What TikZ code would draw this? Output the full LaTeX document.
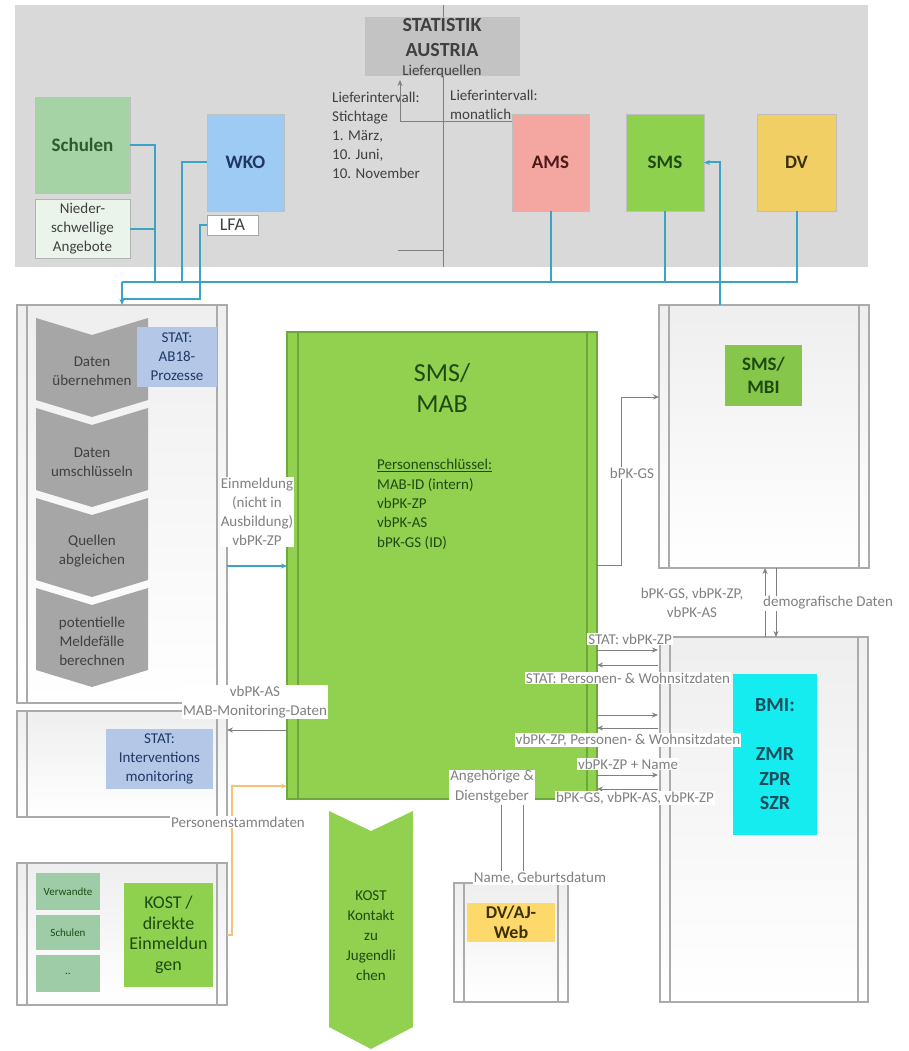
\documentclass[tikz,border=0pt]{standalone}
\usepackage{fontspec}
\setmainfont{Carlito}
\usetikzlibrary{arrows.meta,fit}
\definecolor{panelgray}{HTML}{D9D9D9}
\definecolor{statgray}{HTML}{C3C3C3}
\definecolor{schulgreen}{HTML}{A6D3A6}
\definecolor{niedergreen}{HTML}{EAF4EA}
\definecolor{wkoblue}{HTML}{9DCBF3}
\definecolor{amsred}{HTML}{F4A6A0}
\definecolor{smsgreen}{HTML}{8DD14F}
\definecolor{dvyellow}{HTML}{F1CF65}
\definecolor{chevgray}{HTML}{A6A6A6}
\definecolor{statblue}{HTML}{B4C7E7}
\definecolor{mabgreen}{HTML}{92D050}
\definecolor{mabedge}{HTML}{6DA83A}
\definecolor{bmicyan}{HTML}{14ECF0}
\definecolor{kostsmall}{HTML}{9DCCA7}
\definecolor{ajyellow}{HTML}{FDD86B}
\definecolor{busblue}{HTML}{3AA3C6}
\definecolor{orangec}{HTML}{F6C27A}
\definecolor{conngray}{HTML}{7F7F7F}
\definecolor{labgray}{HTML}{808080}
\definecolor{lanegray}{HTML}{ABABAB}
\definecolor{dkgreen}{HTML}{1E4A12}
\definecolor{schultext}{HTML}{2E5A2E}
\definecolor{navyt}{HTML}{1F3864}
\definecolor{dkred}{HTML}{4D1A18}
\definecolor{dkolive}{HTML}{3A3000}
\definecolor{bmitext}{HTML}{1B4D5C}
\definecolor{txtgray}{HTML}{404040}
% box: [box style]{name}{x1}{y1}{x2}{y2}{text style}{text}
\newcommand{\R}[8][]{\node[fit={(#3,#4)(#5,#6)},inner sep=0pt,outer sep=0pt,#1] (#2) {};
  \node[inner sep=0pt,#7] (#2-t) at (#2.center) {#8};}
\newcommand{\lane}[6][lanebox]{\node[fit={(#3,#4)(#5,#6)},inner sep=0pt,outer sep=0pt,#1] (#2) {};
  \draw[laneline] ([xshift=10pt]#2.north west) -- ([xshift=10pt]#2.south west);
  \draw[laneline] ([xshift=-10pt]#2.north east) -- ([xshift=-10pt]#2.south east);}
\newcommand{\chev}[8]{%
  \fill[chevfill] (#2,#4) -- ({(#2+#3)/2},{#4+#6}) -- (#3,#4) -- (#3,{#4+#5}) -- ({(#2+#3)/2},{#4+#5+#6}) -- (#2,{#4+#5}) -- cycle;
  \node[chevtext] (#1) at ({(#2+#3)/2},#7) {#8};}
\begin{document}
\begin{tikzpicture}[x=1pt,y=-1pt,
  every node/.style={font=\fontsize{15}{19}\selectfont},
  lanebox/.style={draw=lanegray,line width=1.2pt,top color=gray!13,bottom color=white},
  laneline/.style={draw=lanegray,line width=1.2pt},
  chevfill/.style={fill=chevgray},
  chevtext/.style={text=txtgray,align=center},
  bigtext/.style={font=\fontsize{19}{23}\selectfont\bfseries,align=center},
  srcbox/.style={draw=black!25,line width=0.8pt},
  bus/.style={draw=busblue,line width=2pt},
  ocon/.style={draw=orangec,line width=1.6pt},
  gconn/.style={draw=conngray,line width=0.8pt},
  arr/.style={-{Stealth[length=6pt,width=5pt]}},
  lbl/.style={text=labgray,fill=white,inner sep=1pt,align=center},
  statbx/.style={fill=statblue},
  stattx/.style={text=navyt,align=center},
  smalltx/.style={font=\fontsize{11}{13}\selectfont,text=dkgreen},
]
\useasboundingbox (0,0) rectangle (909,1051);

% ---------- top panel ----------
\R[fill=panelgray]{top}{15}{5}{868}{267}{}{}
\coordinate (divT) at (443,5);
\coordinate (divB) at (443,267);
\coordinate (hl1) at (398,250);
\coordinate (hl2) at (443,250);
\R[fill=statgray]{statbox}{365}{17}{520}{76}{}{}
\node[font=\fontsize{20}{25}\selectfont\bfseries,text=txtgray,align=center] (stattitle) at (442,38) {STATISTIK\\AUSTRIA};
\node[text=txtgray,inner sep=0pt] (lq) at (442,72) {Lieferquellen};
\node[text=txtgray,align=left,anchor=north west,inner sep=0pt] (li1) at (332,92) {Lieferintervall:\\Stichtage\\1. März,\\10. Juni,\\10. November};
\node[text=txtgray,align=left,anchor=north west,inner sep=0pt] (li2) at (450,90) {Lieferintervall:\\monatlich};

\R[srcbox,fill=schulgreen]{schulen}{35}{97}{130}{193}{bigtext,text=schultext}{Schulen}
\R[srcbox,draw=black!30,fill=niedergreen]{nieder}{35}{199}{130}{258}{align=center,text=txtgray}{Nieder-\\schwellige\\Angebote}
\R[srcbox,fill=wkoblue]{wko}{207}{114}{284}{211}{bigtext,text=navyt}{WKO}
\R[srcbox,draw=black!35,fill=white]{lfa}{207}{215}{258}{235}{font=\fontsize{18}{21}\selectfont,text=txtgray}{LFA}
\R[srcbox,fill=amsred]{ams}{512}{114}{589}{211}{bigtext,text=dkred}{AMS}
\R[srcbox,fill=smsgreen]{sms}{626}{114}{704}{211}{bigtext,text=dkgreen}{SMS}
\R[srcbox,fill=dvyellow]{dv}{757}{114}{836}{211}{bigtext,text=dkolive}{DV}

\coordinate (lqy) at (0,121);
\coordinate (lqin) at (400,80);
\draw[gconn,arr] (ams.west |- lqy) -| (lqin);

% ---------- lanes ----------
\lane{lane1}{17}{305}{227}{703}
\lane{lane2}{17}{711}{227}{817}
\lane{lane3}{17}{863}{227}{1005}
\lane{mbilane}{659}{305}{869}{568}
\lane{bmilane}{660}{637}{868}{1002}
\lane{dvlane}{454}{883}{568}{1002}
\R[fill=mabgreen,draw=mabedge,line width=1.2pt]{mablane}{287}{332}{597}{799}{}{}
\draw[draw=mabedge,line width=1.2pt] ([xshift=11pt]mablane.north west) -- ([xshift=11pt]mablane.south west);
\draw[draw=mabedge,line width=1.2pt] ([xshift=-10pt]mablane.north east) -- ([xshift=-10pt]mablane.south east);

% ---------- bus ----------
\coordinate (busL) at (122,282);
\coordinate (busS) at (155,282);
\coordinate (busW) at (182,282);
\coordinate (lfaC) at (200,299);
\coordinate (lfaL) at (122,299);
\coordinate (smsUp) at (720,0);
\draw[bus] (schulen.east) -| (busS);
\draw[bus] (nieder.east) -- (nieder.east -| busS);
\draw[bus] (wko.west) -| (busW);
\draw[bus] (lfa.west) -| (lfaC) -- (lfaL);
\draw[bus] (ams.south) -- (ams.south |- busL);
\draw[bus] (sms.south) -- (sms.south |- busL);
\draw[bus] (dv.south) -- (dv.south |- busL) -- (busL);
\draw[bus,arr] (busL) -- (lane1.north -| busL);
\draw[bus,arr] (mbilane.north -| smsUp) |- (sms.east);

% ---------- lane 1 ----------
\chev{ch1}{36}{148}{318}{82}{17}{371}{Daten\\übernehmen}
\chev{ch2}{36}{148}{408}{82}{17}{462}{Daten\\umschlüsseln}
\chev{ch3}{36}{148}{498}{82}{17}{551}{Quellen\\abgleichen}
\chev{ch4}{36}{148}{588}{82}{17}{641}{potentielle\\Meldefälle\\berechnen}
\R[statbx]{ab18}{137}{327}{217}{387}{stattx}{STAT:\\AB18-\\Prozesse}
% ---------- lane 2 / 3 ----------
\R[statbx]{interv}{106}{729}{213}{789}{stattx}{STAT:\\Interventions\\monitoring}
\R[fill=kostsmall]{verw}{36}{873}{100}{910}{smalltx}{Verwandte}
\R[fill=kostsmall]{schul2}{36}{915}{100}{950}{smalltx}{Schulen}
\R[fill=kostsmall]{dots}{36}{955}{100}{992}{smalltx}{..}
\R[fill=smsgreen]{kostd}{124}{883}{213}{987}{font=\fontsize{18}{20.5}\selectfont,text=dkgreen,align=center}{KOST /\\direkte\\Einmeldun\\gen}

% ---------- MAB ----------
\node[font=\fontsize{26}{31}\selectfont,text=dkgreen,align=center] (mabtitle) at (442,388) {SMS/\\MAB};
\node[text=dkgreen,align=left,anchor=north west,inner sep=0pt,font=\fontsize{15}{19.4}\selectfont] (pkeys) at (377,459) {\underline{Personenschlüssel:}\\MAB-ID (intern)\\vbPK-ZP\\vbPK-AS\\bPK-GS (ID)};
\R[fill=smsgreen!95!black]{mbi}{725}{345}{802}{406}{font=\fontsize{19}{23}\selectfont\bfseries,text=dkgreen,align=center}{SMS/\\MBI}
\R[fill=bmicyan]{bmi}{733}{674}{817}{835}{font=\fontsize{20}{24.5}\selectfont\bfseries,text=bmitext,align=center}{BMI:\\[24.5pt]ZMR\\ZPR\\SZR}
\R[fill=ajyellow]{ajweb}{467}{903}{555}{942}{font=\fontsize{18}{20}\selectfont\bfseries,text=dkolive,align=center}{DV/AJ-\\Web}

% KOST chevron
\fill[chevfill,fill=mabgreen] (329,811) -- (371,831) -- (413,811) -- (413,1027) -- (371,1049) -- (329,1027) -- cycle;
\node[text=dkgreen,align=center,font=\fontsize{15}{20}\selectfont] (kostk) at (371,936) {KOST\\Kontakt\\zu\\Jugendli\\chen};

% ---------- connectors ----------
\draw[gconn] (divT) -- (statbox.north -| divT);
\draw[gconn] (statbox.south -| divT) -- (divB);
\draw[gconn] (hl1) -- (hl2);
\coordinate (einY) at (0,566);
\draw[bus,arr] (lane1.east |- einY) -- (mablane.west |- einY);
\coordinate (vaY) at (0,730);
\draw[gconn,arr] (mablane.west |- vaY) -- (lane2.east |- vaY);
\coordinate (orA) at (232,935);
\coordinate (orB) at (232,786);
\draw[ocon,arr] (lane3.east |- orA) -- (orA) -- (orB) -- (mablane.west |- orB);
\coordinate (bg1) at (621,565);
\coordinate (bg2) at (621,397);
\draw[gconn,arr] (mablane.east |- bg1) -- (bg1) -- (bg2) -- (mbilane.west |- bg2);
\coordinate (dmA) at (765,0);
\coordinate (dmB) at (776,0);
\draw[gconn,arr] (bmilane.north -| dmA) -- (mbilane.south -| dmA);
\draw[gconn,arr] (mbilane.south -| dmB) -- (bmilane.north -| dmB);
\coordinate (r1) at (0,650);
\coordinate (l1) at (0,665);
\coordinate (r2) at (0,715);
\coordinate (l2) at (0,728);
\coordinate (r3) at (0,775);
\coordinate (l3) at (0,789);
\draw[gconn,arr,shorten >=2pt] (mablane.east |- r1) -- (bmilane.west |- r1);
\draw[gconn,arr,shorten <=2pt] (bmilane.west |- l1) -- (mablane.east |- l1);
\draw[gconn,arr,shorten >=2pt] (mablane.east |- r2) -- (bmilane.west |- r2);
\draw[gconn,arr,shorten <=2pt] (bmilane.west |- l2) -- (mablane.east |- l2);
\draw[gconn,arr,shorten >=2pt] (mablane.east |- r3) -- (bmilane.west |- r3);
\draw[gconn,arr,shorten <=2pt] (bmilane.west |- l3) -- (mablane.east |- l3);
\coordinate (dvA) at (501,0);
\coordinate (dvB) at (523,0);
\draw[gconn,arr] (dvlane.north -| dvA) -- (mablane.south -| dvA);
\draw[gconn,arr] (mablane.south -| dvB) -- (dvlane.north -| dvB);

% ---------- labels ----------
\node[lbl] (lein) at (257,512) {Einmeldung\\(nicht in\\Ausbildung)\\vbPK-ZP};
\node[lbl] (lva) at (255,702) {vbPK-AS\\MAB-Monitoring-Daten};
\node[lbl] (lps) at (238,822) {Personenstammdaten};
\node[lbl] (lbg) at (632,473) {bPK-GS};
\node[lbl,anchor=west] (ldem) at (762,603) {demografische Daten};
\node[lbl,fill=none] (lbg3) at (692,603) {bPK-GS, vbPK-ZP,\\vbPK-AS};
\node[lbl] (ls1) at (630,639) {STAT: vbPK-ZP};
\node[lbl] (ls2) at (628,678) {STAT: Personen- \& Wohnsitzdaten};
\node[lbl] (ls3) at (628,740) {vbPK-ZP, Personen- \& Wohnsitzdaten};
\node[lbl] (ls4) at (628,764) {vbPK-ZP + Name};
\node[lbl] (ls5) at (635,798) {bPK-GS, vbPK-AS, vbPK-ZP};
\node[lbl,font=\fontsize{15}{20}\selectfont] (lang) at (492,787) {Angehörige \&\\Dienstgeber};
\node[lbl] (lname) at (540,878) {Name, Geburtsdatum};
\end{tikzpicture}
\end{document}
